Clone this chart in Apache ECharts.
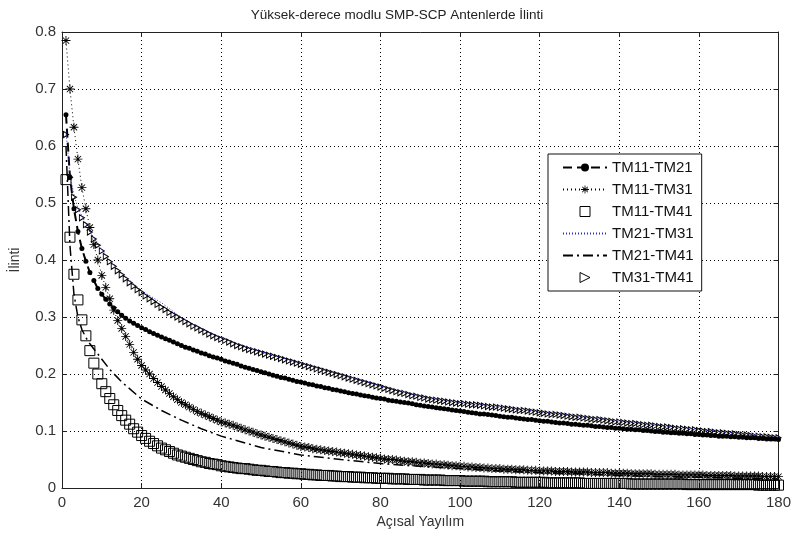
<!DOCTYPE html>
<html>
<head>
<meta charset="utf-8">
<script src="https://cdn.jsdelivr.net/npm/echarts@6/dist/echarts.min.js"></script>
<style>
  html, body { margin: 0; padding: 0; background: #fff; }
  #chart { width: 794px; height: 535px; }
</style>
</head>
<body>
<div id="chart"></div>
<script>
// x positions of the marker series (one sample per degree, 1..180)
const angles = Array.from({ length: 180 }, (_, i) => i + 1);

// TM11-TM21 (dashed, dots)
const tm11tm21 = [
  0.655, 0.545, 0.490, 0.450, 0.420, 0.398, 0.378, 0.364, 0.350, 0.340,
  0.331, 0.323, 0.316, 0.309, 0.303, 0.298, 0.293, 0.289, 0.285, 0.281,
  0.278, 0.274, 0.271, 0.268, 0.265, 0.262, 0.259, 0.256, 0.253, 0.250,
  0.247, 0.245, 0.242, 0.240, 0.237, 0.235, 0.232, 0.230, 0.228, 0.226,
  0.223, 0.221, 0.219, 0.217, 0.214, 0.212, 0.210, 0.208, 0.206, 0.204,
  0.202, 0.200, 0.198, 0.196, 0.194, 0.193, 0.191, 0.189, 0.187, 0.186,
  0.184, 0.182, 0.181, 0.179, 0.178, 0.176, 0.175, 0.173, 0.172, 0.170,
  0.169, 0.167, 0.166, 0.165, 0.163, 0.162, 0.161, 0.159, 0.158, 0.157,
  0.156, 0.154, 0.153, 0.152, 0.151, 0.150, 0.149, 0.148, 0.146, 0.145,
  0.144, 0.143, 0.142, 0.141, 0.140, 0.139, 0.138, 0.137, 0.136, 0.135,
  0.134, 0.133, 0.132, 0.131, 0.130, 0.130, 0.129, 0.128, 0.127, 0.126,
  0.125, 0.124, 0.124, 0.123, 0.122, 0.121, 0.120, 0.120, 0.119, 0.118,
  0.117, 0.117, 0.116, 0.115, 0.114, 0.114, 0.113, 0.112, 0.112, 0.111,
  0.110, 0.110, 0.109, 0.108, 0.108, 0.107, 0.106, 0.106, 0.105, 0.105,
  0.104, 0.103, 0.103, 0.102, 0.102, 0.101, 0.101, 0.100, 0.099, 0.099,
  0.098, 0.098, 0.097, 0.097, 0.096, 0.096, 0.095, 0.095, 0.094, 0.094,
  0.093, 0.093, 0.092, 0.092, 0.091, 0.091, 0.091, 0.090, 0.090, 0.089,
  0.089, 0.088, 0.088, 0.088, 0.087, 0.087, 0.086, 0.086, 0.086, 0.085
];

// TM11-TM31 (dotted, stars)
const tm11tm31 = [
  0.785, 0.700, 0.633, 0.577, 0.527, 0.490, 0.457, 0.427, 0.400, 0.373,
  0.352, 0.332, 0.312, 0.294, 0.280, 0.266, 0.252, 0.238, 0.226, 0.215,
  0.207, 0.200, 0.192, 0.185, 0.178, 0.172, 0.166, 0.160, 0.155, 0.150,
  0.146, 0.142, 0.138, 0.134, 0.131, 0.128, 0.125, 0.122, 0.119, 0.116,
  0.114, 0.112, 0.110, 0.107, 0.105, 0.102, 0.100, 0.098, 0.095, 0.093,
  0.091, 0.089, 0.087, 0.085, 0.083, 0.081, 0.079, 0.077, 0.075, 0.073,
  0.072, 0.071, 0.069, 0.068, 0.067, 0.066, 0.065, 0.064, 0.063, 0.062,
  0.061, 0.060, 0.059, 0.058, 0.057, 0.056, 0.055, 0.054, 0.053, 0.052,
  0.051, 0.050, 0.050, 0.049, 0.048, 0.047, 0.046, 0.046, 0.045, 0.044,
  0.044, 0.043, 0.042, 0.042, 0.041, 0.041, 0.040, 0.039, 0.039, 0.038,
  0.038, 0.037, 0.037, 0.036, 0.036, 0.035, 0.035, 0.034, 0.034, 0.034,
  0.033, 0.033, 0.033, 0.032, 0.032, 0.032, 0.031, 0.031, 0.031, 0.030,
  0.030, 0.030, 0.030, 0.029, 0.029, 0.029, 0.029, 0.028, 0.028, 0.028,
  0.028, 0.028, 0.027, 0.027, 0.027, 0.027, 0.027, 0.026, 0.026, 0.026,
  0.026, 0.026, 0.025, 0.025, 0.025, 0.025, 0.025, 0.025, 0.024, 0.024,
  0.024, 0.024, 0.024, 0.024, 0.023, 0.023, 0.023, 0.023, 0.023, 0.023,
  0.023, 0.022, 0.022, 0.022, 0.022, 0.022, 0.022, 0.022, 0.021, 0.021,
  0.021, 0.021, 0.021, 0.021, 0.021, 0.020, 0.020, 0.020, 0.020, 0.020
];

// TM11-TM41 (squares only)
const tm11tm41 = [
  0.541, 0.440, 0.375, 0.330, 0.295, 0.267, 0.241, 0.219, 0.200, 0.183,
  0.169, 0.157, 0.146, 0.136, 0.127, 0.119, 0.112, 0.104, 0.098, 0.092,
  0.087, 0.082, 0.078, 0.074, 0.070, 0.067, 0.064, 0.061, 0.058, 0.056,
  0.054, 0.052, 0.050, 0.048, 0.046, 0.045, 0.043, 0.042, 0.041, 0.039,
  0.038, 0.037, 0.036, 0.035, 0.034, 0.034, 0.033, 0.032, 0.031, 0.031,
  0.030, 0.029, 0.029, 0.028, 0.027, 0.027, 0.026, 0.026, 0.025, 0.025,
  0.024, 0.024, 0.023, 0.023, 0.022, 0.022, 0.022, 0.021, 0.021, 0.020,
  0.020, 0.020, 0.019, 0.019, 0.019, 0.018, 0.018, 0.018, 0.017, 0.017,
  0.017, 0.017, 0.016, 0.016, 0.016, 0.016, 0.015, 0.015, 0.015, 0.015,
  0.014, 0.014, 0.014, 0.014, 0.014, 0.013, 0.013, 0.013, 0.013, 0.013,
  0.012, 0.012, 0.012, 0.012, 0.012, 0.012, 0.011, 0.011, 0.011, 0.011,
  0.011, 0.011, 0.011, 0.010, 0.010, 0.010, 0.010, 0.010, 0.010, 0.010,
  0.010, 0.009, 0.009, 0.009, 0.009, 0.009, 0.009, 0.009, 0.009, 0.009,
  0.008, 0.008, 0.008, 0.008, 0.008, 0.008, 0.008, 0.008, 0.008, 0.008,
  0.008, 0.008, 0.007, 0.007, 0.007, 0.007, 0.007, 0.007, 0.007, 0.007,
  0.007, 0.007, 0.007, 0.007, 0.007, 0.007, 0.006, 0.006, 0.006, 0.006,
  0.006, 0.006, 0.006, 0.006, 0.006, 0.006, 0.006, 0.006, 0.006, 0.006,
  0.006, 0.006, 0.006, 0.006, 0.005, 0.005, 0.005, 0.005, 0.005, 0.005
];

// TM31-TM41 (right triangles only)
const tm31tm41 = [
  0.620, 0.545, 0.510, 0.488, 0.474, 0.462, 0.449, 0.437, 0.426, 0.416,
  0.406, 0.397, 0.389, 0.381, 0.374, 0.367, 0.360, 0.354, 0.348, 0.343,
  0.337, 0.332, 0.327, 0.322, 0.317, 0.313, 0.308, 0.304, 0.300, 0.296,
  0.292, 0.288, 0.284, 0.281, 0.277, 0.274, 0.270, 0.267, 0.264, 0.261,
  0.259, 0.256, 0.253, 0.250, 0.248, 0.245, 0.243, 0.241, 0.239, 0.237,
  0.235, 0.233, 0.231, 0.229, 0.227, 0.225, 0.223, 0.221, 0.219, 0.217,
  0.215, 0.213, 0.211, 0.209, 0.207, 0.205, 0.203, 0.201, 0.199, 0.197,
  0.195, 0.193, 0.191, 0.189, 0.187, 0.185, 0.183, 0.181, 0.179, 0.177,
  0.175, 0.173, 0.171, 0.169, 0.167, 0.166, 0.164, 0.162, 0.161, 0.159,
  0.158, 0.156, 0.155, 0.154, 0.153, 0.152, 0.151, 0.150, 0.149, 0.148,
  0.148, 0.147, 0.146, 0.146, 0.145, 0.144, 0.143, 0.142, 0.142, 0.141,
  0.140, 0.139, 0.138, 0.137, 0.136, 0.136, 0.135, 0.134, 0.133, 0.132,
  0.131, 0.130, 0.129, 0.129, 0.128, 0.127, 0.126, 0.125, 0.124, 0.124,
  0.123, 0.122, 0.121, 0.120, 0.120, 0.119, 0.118, 0.117, 0.116, 0.116,
  0.115, 0.114, 0.113, 0.113, 0.112, 0.111, 0.110, 0.110, 0.109, 0.108,
  0.107, 0.107, 0.106, 0.105, 0.104, 0.104, 0.103, 0.102, 0.102, 0.101,
  0.100, 0.099, 0.099, 0.098, 0.097, 0.097, 0.096, 0.095, 0.095, 0.094,
  0.093, 0.093, 0.092, 0.091, 0.091, 0.090, 0.090, 0.089, 0.088, 0.088
];

// line-only series, sampled where the curve bends
const lineAngles = [1, 2, 3, 4, 5, 6, 7, 8, 9, 10, 12, 15, 20, 25, 30, 35, 40, 50, 60, 70, 80, 90, 100, 110, 120, 130, 140, 150, 160, 170, 180];
// TM21-TM31 (blue dotted)
const tm21tm31 = [0.625, 0.550, 0.514, 0.491, 0.477, 0.464, 0.451, 0.439, 0.428, 0.418, 0.400, 0.377, 0.346, 0.325, 0.299, 0.280, 0.263, 0.239, 0.219, 0.199, 0.179, 0.161, 0.150, 0.143, 0.134, 0.126, 0.118, 0.110, 0.103, 0.096, 0.090];
// TM21-TM41 (dash-dot)
const tm21tm41 = [0.600, 0.425, 0.340, 0.300, 0.278, 0.264, 0.253, 0.244, 0.235, 0.226, 0.208, 0.186, 0.156, 0.136, 0.119, 0.104, 0.091, 0.071, 0.058, 0.050, 0.043, 0.038, 0.034, 0.030, 0.027, 0.025, 0.022, 0.020, 0.019, 0.017, 0.016];

const legendNames = ['TM11-TM21', 'TM11-TM31', 'TM11-TM41', 'TM21-TM31', 'TM21-TM41', 'TM31-TM41'];

const xTicks = { min: 0, max: 180, interval: 20 };
const yTicks = { min: 0, max: 0.8, interval: 0.1 };

const FONT = 'Liberation Sans';
const starPath = 'path://M4.5,0h1v10h-1z M0,4.5h10v1h-10z M1.2,1.9l0.7,-0.7l7,7l-0.7,0.7z M8.1,1.2l0.7,0.7l-7,7l-0.7,-0.7z';
const triPath = 'path://M0,0L10,5L0,10Z';
const squarePath = 'path://M0,0h10v10h-10z';

function pairs(xs, ys) {
  return ys.map((y, i) => [xs[i], y]);
}

const gridLine = { show: true, lineStyle: { color: '#000', type: [1, 3], width: 1 } };
const axisLine = { show: true, onZero: false, lineStyle: { color: '#222', width: 1 } };
const tick = { show: true, inside: true, length: 5, lineStyle: { color: '#222' } };
const tickLabel = { color: '#333', fontFamily: FONT, fontSize: 15 };
const hollow = { color: 'rgba(0,0,0,0)', borderColor: '#000', borderWidth: 1, opacity: 1 };

const option = {
  animation: false,
  backgroundColor: '#fff',
  title: {
    text: 'Yüksek-derece modlu SMP-SCP Antenlerde İlinti',
    left: 'center',
    top: 3,
    textStyle: { color: '#222', fontFamily: FONT, fontSize: 13.5, fontWeight: 'normal' },
  },
  grid: { left: 62, right: 13, top: 32, bottom: 47, containLabel: false },
  legend: {
    orient: 'vertical',
    left: 548,
    top: 154,
    itemWidth: 44,
    itemHeight: 10,
    itemGap: 7,
    padding: [6, 8, 6, 14],
    borderColor: '#111',
    borderWidth: 1,
    backgroundColor: '#fff',
    textStyle: { color: '#111', fontFamily: FONT, fontSize: 15 },
    data: [
      { name: legendNames[0] },
      { name: legendNames[1] },
      { name: legendNames[2], icon: squarePath, itemStyle: hollow },
      { name: legendNames[3], itemStyle: { opacity: 0 } },
      { name: legendNames[4], itemStyle: { opacity: 0 } },
      { name: legendNames[5], icon: triPath, itemStyle: hollow },
    ],
  },
  xAxis: [
    {
      type: 'value', ...xTicks,
      name: 'Açısal Yayılım', nameLocation: 'middle', nameGap: 26,
      nameTextStyle: { color: '#333', fontFamily: FONT, fontSize: 14 },
      axisLine, axisTick: tick, splitLine: gridLine,
      axisLabel: { ...tickLabel, margin: 7 },
    },
    {
      type: 'value', ...xTicks, position: 'top',
      axisLine, axisTick: tick, splitLine: { show: false }, axisLabel: { show: false },
    },
  ],
  yAxis: [
    {
      type: 'value', ...yTicks,
      name: 'İlinti', nameLocation: 'middle', nameGap: 40,
      nameTextStyle: { color: '#333', fontFamily: FONT, fontSize: 14 },
      axisLine, axisTick: tick, splitLine: gridLine,
      axisLabel: { ...tickLabel, margin: 6 },
    },
    {
      type: 'value', ...yTicks, position: 'right',
      axisLine, axisTick: tick, splitLine: { show: false }, axisLabel: { show: false },
    },
  ],
  series: [
    {
      name: legendNames[0], type: 'line', showAllSymbol: true,
      data: pairs(angles, tm11tm21),
      symbol: 'circle', symbolSize: 5,
      itemStyle: { color: '#000' },
      lineStyle: { color: '#000', width: 2, type: [9, 5] },
    },
    {
      name: legendNames[1], type: 'line', showAllSymbol: true,
      data: pairs(angles, tm11tm31),
      symbol: starPath, symbolSize: 9,
      itemStyle: { color: '#000' },
      lineStyle: { color: '#000', width: 1, type: [1, 3] },
    },
    {
      name: legendNames[2], type: 'scatter',
      data: pairs(angles, tm11tm41),
      symbol: squarePath, symbolSize: 10,
      itemStyle: hollow,
    },
    {
      name: legendNames[3], type: 'line', showSymbol: false,
      data: pairs(lineAngles, tm21tm31),
      symbol: 'none',
      itemStyle: { color: '#2a2ad0' },
      lineStyle: { color: '#2a2ad0', width: 1, type: [1, 2] },
    },
    {
      name: legendNames[4], type: 'line', showSymbol: false,
      data: pairs(lineAngles, tm21tm41),
      symbol: 'none',
      itemStyle: { color: '#000' },
      lineStyle: { color: '#000', width: 1.5, type: [10, 4, 2, 4] },
    },
    {
      name: legendNames[5], type: 'scatter',
      data: pairs(angles, tm31tm41),
      symbol: triPath, symbolSize: [5, 6],
      itemStyle: hollow,
    },
  ],
};

const chart = echarts.init(document.getElementById('chart'));
chart.setOption(option);
</script>
</body>
</html>
